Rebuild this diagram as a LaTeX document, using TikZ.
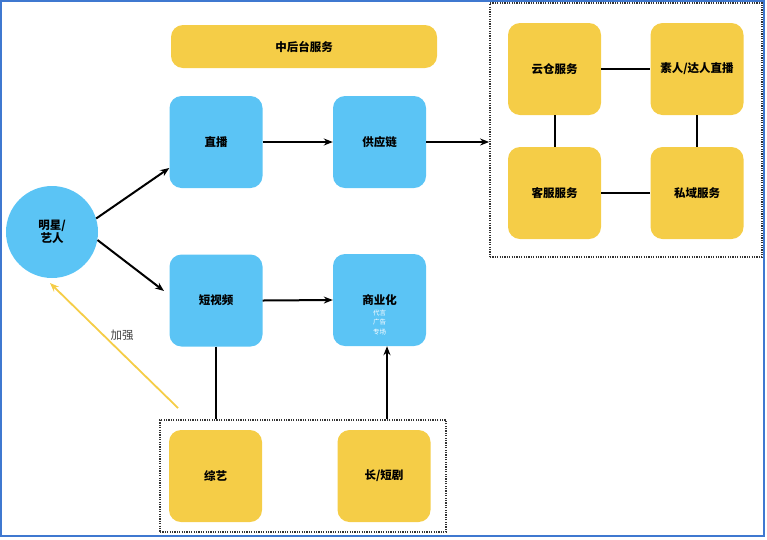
\documentclass[tikz,border=0pt]{standalone}
\usepackage{fontspec}
\setmainfont{Noto Sans CJK SC}
\usetikzlibrary{arrows.meta,calc}
\definecolor{skyb}{HTML}{5BC4F5}
\definecolor{gold}{HTML}{F5CD47}
\definecolor{frameb}{HTML}{3F78D0}
\tikzset{
  bluebox/.style={fill=skyb, rounded corners=12pt, minimum width=93pt, minimum height=92pt, inner sep=0pt, font=\fontsize{11.5}{13}\selectfont\bfseries},
  goldbox/.style={fill=gold, rounded corners=12pt, minimum width=93pt, minimum height=92pt, inner sep=0pt, font=\fontsize{11.5}{13}\selectfont\bfseries},
  conn/.style={line width=2pt, draw=black},
  arr/.style={conn, -{Stealth[length=9pt,width=7pt]}},
}
\begin{document}
\begin{tikzpicture}[x=1pt,y=-1pt]
\useasboundingbox (0,0) rectangle (767,539);
\draw[frameb, line width=2pt] (1,1) rectangle (764,536);

% dotted frames
\node[draw=black!80, line width=1.8pt, dash pattern=on 1.2pt off 1.2pt, minimum width=272pt, minimum height=254pt, inner sep=0pt] (rbox) at (626,130) {};
\node[draw=black!80, line width=1.8pt, dash pattern=on 1.2pt off 1.2pt, minimum width=286pt, minimum height=112pt, inner sep=0pt] (bbox) at (303,476) {};

% nodes
\node[goldbox, minimum width=266pt, minimum height=43pt] (zht) at (304,46.5) {中后台服务};
\node[bluebox] (zb) at (216,142) {直播};
\node[bluebox] (gyl) at (379.5,142) {供应链};
\node[bluebox] (dsp) at (216,300.5) {短视频};
\node[bluebox] (syh) at (379.5,300) {};
\node[font=\fontsize{11.5}{13}\selectfont\bfseries] (syhl) at (379.5,300) {商业化};
\node[font=\fontsize{6.5}{9.5}\selectfont, text=white, align=center, inner sep=0pt] (syhs) at (379.5,322.5) {代言\\广告\\专场};
\node[circle, fill=skyb, minimum size=92pt, inner sep=0pt, align=center, font=\fontsize{11.5}{13}\selectfont\bfseries] (star) at (52,232) {明星/\\艺人};

\node[goldbox] (yc) at (554.5,69) {云仓服务};
\node[goldbox] (sr) at (697,69) {素人/达人直播};
\node[goldbox] (kf) at (554.5,193) {客服服务};
\node[goldbox] (sy) at (697,193) {私域服务};
\node[goldbox] (zy) at (215.5,476) {综艺};
\node[goldbox] (cd) at (384,476) {长/短剧};

% connectors
\draw[arr] (zb.east) -- (gyl.west);
\draw[arr] (dsp.east) -- (syh.west);
\draw[arr] (gyl.east) -- (gyl.east -| rbox.west);
\draw[arr] (star.17) -- (zb.west |- 0,168);
\draw[arr] (star.-10) -- (164,291);
\draw[conn] (yc.east) -- (sr.west);
\draw[conn] (kf.east) -- (sy.west);
\draw[conn] (yc.south) -- (kf.north);
\draw[conn] (sr.south) -- (sy.north);
\draw[conn] (dsp.south) -- (dsp.south |- bbox.north);
\coordinate (u) at (387,0);
\draw[arr] (u |- bbox.north) -- (u |- syh.south);
\coordinate (ys) at (178,408);
\draw[line width=1.8pt, gold, -{Stealth[length=9pt,width=7pt]}] (ys) -- (50,283);
\node[font=\fontsize{11.5}{13}\selectfont, text=black!75] (jq) at (122,335) {加强};
\end{tikzpicture}
\end{document}
